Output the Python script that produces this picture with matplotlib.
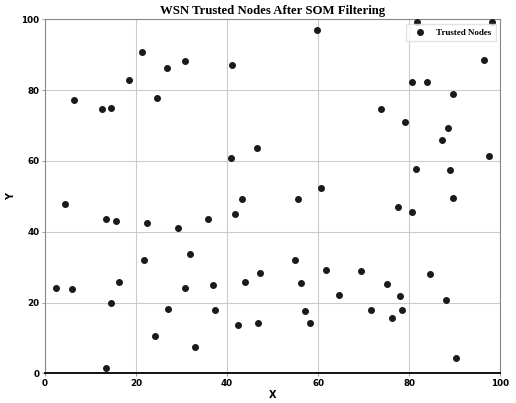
import matplotlib
matplotlib.use("Agg")
import matplotlib.pyplot as plt

# trusted node positions
x_vals = [6.3, 12.5, 14.4, 18.5, 21.4, 24.6, 26.9, 30.7, 41.1, 40.9,
          46.6, 43.3, 59.7, 81.6, 98.2, 96.5, 80.7, 84.0, 89.5, 73.9,
          79.0, 88.6, 87.3, 97.5, 81.5, 89.0, 60.7, 55.6, 89.7, 4.3,
          13.3, 15.7, 22.3, 29.3, 35.8, 41.7, 21.7, 31.9, 2.4, 5.9,
          16.3, 14.6, 30.7, 36.8, 27.0, 37.4, 24.2, 32.9, 13.5, 42.4,
          47.3, 46.8, 44.0, 77.5, 80.7, 55.0, 61.8, 69.5, 56.2, 84.6,
          75.2, 64.6, 78.0, 88.1, 57.2, 71.6, 78.4, 76.2, 58.3, 90.2]
y_vals = [77.1, 74.7, 75.0, 82.9, 90.8, 77.9, 86.3, 88.3, 87.2, 60.9,
          63.7, 49.3, 97.0, 99.3, 99.3, 88.5, 82.2, 82.3, 79.0, 74.7,
          71.0, 69.3, 66.0, 61.4, 57.7, 57.4, 52.4, 49.2, 49.6, 47.7,
          43.5, 43.0, 42.5, 41.1, 43.7, 45.0, 32.1, 33.8, 24.0, 23.9,
          25.7, 19.8, 24.0, 24.9, 18.3, 17.9, 10.6, 7.4, 1.6, 13.6,
          28.4, 14.2, 25.9, 47.1, 45.7, 32.0, 29.2, 29.0, 25.5, 28.0,
          25.2, 22.0, 21.9, 20.8, 17.7, 18.0, 17.8, 15.7, 14.2, 4.2]

fig = plt.figure(figsize=(5.16, 4.03), dpi=100)
ax = fig.add_axes([0.0872, 0.0737, 0.8824, 0.8783])

ax.scatter(x_vals, y_vals, s=16, color="#1a1a1a", label="Trusted Nodes", zorder=3)

ax.set_xlim(0, 100)
ax.set_ylim(0, 100)
ax.set_xticks([0, 20, 40, 60, 80, 100])
ax.set_yticks([0, 20, 40, 60, 80, 100])
ax.grid(True, color="#cccccc", linewidth=0.8)
ax.set_axisbelow(True)

for side in ["top", "right", "left"]:
    ax.spines[side].set_color("#888888")
    ax.spines[side].set_linewidth(0.8)
ax.spines["bottom"].set_color("black")
ax.spines["bottom"].set_linewidth(1.3)

for lbl in ax.get_xticklabels() + ax.get_yticklabels():
    lbl.set_fontweight("bold")
    lbl.set_fontsize(6.3)
ax.tick_params(length=2, width=0.6, pad=2, color="#888888")

ax.set_title("WSN Trusted Nodes After SOM Filtering", fontsize=9.2,
             fontweight="bold", family="Liberation Serif", pad=4)
ax.set_xlabel("X", fontsize=7, fontweight="bold")
ax.set_ylabel("Y", fontsize=7, fontweight="bold")
ax.xaxis.set_label_coords(0.5, -0.047)
ax.yaxis.set_label_coords(-0.064, 0.5)

ax.legend(loc="upper right", prop={"family": "Liberation Serif", "weight": "bold", "size": 6.5},
          frameon=True, fancybox=False, edgecolor="#dddddd",
          borderaxespad=0.5, borderpad=0.5)

fig.savefig("out.png", dpi=100)
